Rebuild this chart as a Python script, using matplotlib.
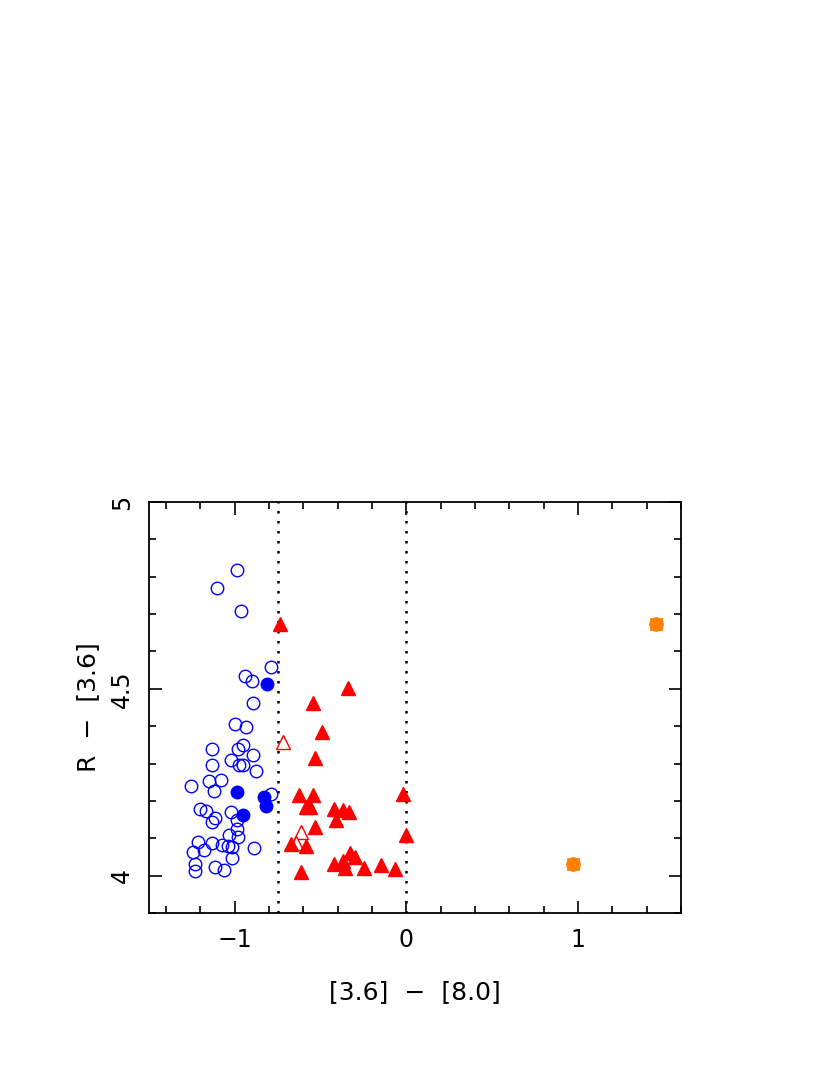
import numpy as np
import matplotlib
matplotlib.use('Agg')
import matplotlib.pyplot as plt
from matplotlib.ticker import MultipleLocator

# open blue circles
open_circ_x = [-0.987, -1.105, -0.963, -0.789, -0.942, -0.902, -0.893, -1.000, -0.934,
               -0.951, -1.130, -0.984, -0.896, -1.023, -1.130, -0.975, -0.955, -0.875,
               -1.257, -1.149, -1.081, -1.122, -0.788, -1.205, -1.170, -1.022, -1.113,
               -1.133, -0.985, -0.987, -0.981, -1.033, -1.215, -1.135, -1.076, -1.039,
               -1.019, -0.886, -1.243, -1.180, -1.019, -1.234, -1.115, -1.061, -1.233]
open_circ_y = [4.818, 4.769, 4.709, 4.558, 4.535, 4.522, 4.462, 4.406, 4.399,
               4.350, 4.340, 4.340, 4.322, 4.309, 4.296, 4.295, 4.295, 4.281,
               4.241, 4.252, 4.255, 4.226, 4.219, 4.178, 4.173, 4.171, 4.155,
               4.143, 4.150, 4.126, 4.104, 4.108, 4.090, 4.088, 4.082, 4.079,
               4.077, 4.075, 4.064, 4.068, 4.047, 4.030, 4.024, 4.014, 4.012]

# filled blue circles
fill_circ_x = [-0.813, -0.989, -0.829, -0.818, -0.955]
fill_circ_y = [4.513, 4.223, 4.210, 4.187, 4.162]

# filled red triangles
fill_tri_x = [-0.735, -0.339, -0.546, -0.493, -0.532, -0.627, -0.544, -0.018, -0.583,
              -0.561, -0.421, -0.367, -0.332, -0.413, -0.532, -0.002, -0.673, -0.583,
              -0.327, -0.298, -0.421, -0.367, -0.358, -0.246, -0.146, -0.064, -0.616]
fill_tri_y = [4.674, 4.502, 4.463, 4.384, 4.316, 4.217, 4.217, 4.219, 4.185,
              4.185, 4.178, 4.175, 4.169, 4.150, 4.129, 4.108, 4.085, 4.080,
              4.061, 4.049, 4.031, 4.040, 4.020, 4.020, 4.028, 4.018, 4.010]

# open red triangles
open_tri_x = [-0.721, -0.614, -0.643]
open_tri_y = [4.359, 4.118, 4.087]

# orange points
orange_x = [1.456, 0.971]
orange_y = [4.674, 4.032]

vlines_x = [-0.75, 0.0]

plt.rcParams['font.family'] = ['DejaVu Sans']

fig = plt.figure(figsize=(8.3, 10.75), dpi=100)
ax = fig.add_axes([0.1795, 0.1507, 0.641, 0.3823])

for xv in vlines_x:
    ax.axvline(xv, color='black', linestyle=(0, (1, 3)), linewidth=1.8, zorder=1)

ax.plot(open_circ_x, open_circ_y, 'o', mfc='none', mec='#0000ff', ms=9, mew=1.0, zorder=2)
ax.plot(fill_circ_x, fill_circ_y, 'o', mfc='#0000ff', mec='#0000ff', ms=9, zorder=3)
ax.plot(open_tri_x, open_tri_y, '^', mfc='white', mec='#ff0000', ms=9.5, mew=1.0, zorder=4)
ax.plot(fill_tri_x, fill_tri_y, '^', mfc='#ff0000', mec='#ff0000', ms=9.5, zorder=5)
ax.plot(orange_x, orange_y, marker=(4, 1, 45), ls='none', mfc='#ff8000', mec='#ff8000',
        ms=12.5, mew=0.6, zorder=6)
ax.plot(orange_x, orange_y, 'o', mfc='#ff8000', mec='#ff8000', ms=9.5, zorder=7)

ax.set_xlim(-1.5, 1.6)
ax.set_ylim(3.9, 5.0)

ax.xaxis.set_major_locator(MultipleLocator(1))
ax.xaxis.set_minor_locator(MultipleLocator(0.2))
ax.yaxis.set_major_locator(MultipleLocator(0.5))
ax.yaxis.set_minor_locator(MultipleLocator(0.1))
ax.set_yticks([4, 4.5, 5])
ax.set_yticklabels(['4', '4.5', '5'], rotation=90, va='center')
ax.set_xticks([-1, 0, 1])
ax.set_xticklabels(['\u22121', '0', '1'])

ax.tick_params(which='both', direction='in', top=True, right=True, width=1.2, labelsize=17)
ax.tick_params(which='major', length=9, pad=11)
ax.tick_params(which='minor', length=5)
for s in ax.spines.values():
    s.set_linewidth(1.3)

ax.set_xlabel('[3.6]  \u2212  [8.0]', fontsize=18, labelpad=20)
ax.set_ylabel('R  \u2212  [3.6]', fontsize=18, labelpad=7)

fig.savefig('out.png', dpi=100)
